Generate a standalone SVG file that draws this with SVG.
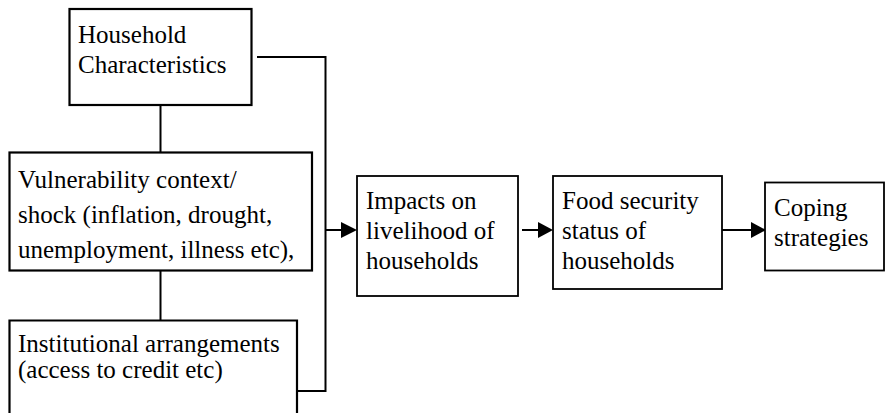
<svg xmlns="http://www.w3.org/2000/svg" width="885" height="413" viewBox="0 0 885 413">
<style>
.box{fill:#fff;stroke:#000;stroke-width:2.2}
.thin{fill:#fff;stroke:#000;stroke-width:1.8}
.t{font-family:"Liberation Serif","Times New Roman",serif;font-size:25px;fill:#000}
.c{fill:none;stroke:#000;stroke-width:2}
</style>
<defs>
<marker id="ah" markerWidth="8" markerHeight="8" refX="8" refY="4" orient="auto" markerUnits="userSpaceOnUse" viewBox="0 0 8 8">
<path d="M0,0 L8,4 L0,8 Z" fill="#000"/>
</marker>
</defs>
<rect width="885" height="413" fill="#fff"/>
<g id="connectors">
<line class="c" x1="160.5" y1="105" x2="160.5" y2="152"/>
<line class="c" x1="160.5" y1="271" x2="160.5" y2="320"/>
<polyline class="c" points="257,57 325.5,57 325.5,391 297,391"/>
<line class="c" x1="325.5" y1="230" x2="341" y2="230"/>
<path d="M341,222 L357,230 L341,238 Z" fill="#000"/>
<line class="c" x1="522" y1="230" x2="538" y2="230"/>
<path d="M538,222 L553,230 L538,238 Z" fill="#000"/>
<line class="c" x1="722" y1="230" x2="751" y2="230"/>
<path d="M751,222 L766,230 L751,238 Z" fill="#000"/>
</g>
<g id="household">
<rect class="box" x="69.5" y="9" width="182" height="96"/>
<text class="t" x="78" y="43">Household</text>
<text class="t" x="78" y="73">Characteristics</text>
</g>
<g id="vulnerability">
<rect class="box" x="9.5" y="152.5" width="302.5" height="118"/>
<text class="t" x="18" y="188">Vulnerability context/</text>
<text class="t" x="18" y="223">shock (inflation, drought,</text>
<text class="t" x="18" y="258">unemployment, illness etc),</text>
</g>
<g id="institutional">
<path class="box" d="M9.5,420 L9.5,320.5 L297,320.5 L297,420"/>
<text class="t" x="18" y="352">Institutional arrangements</text>
<text class="t" x="18" y="378">(access to credit etc)</text>
</g>
<g id="impacts">
<rect class="thin" x="357" y="176" width="161" height="120"/>
<text class="t" x="366" y="209">Impacts on</text>
<text class="t" x="366" y="239">livelihood of</text>
<text class="t" x="366" y="269">households</text>
</g>
<g id="food">
<rect class="thin" x="553" y="176" width="169" height="113"/>
<text class="t" x="562" y="209">Food security</text>
<text class="t" x="562" y="239">status of</text>
<text class="t" x="562" y="269">households</text>
</g>
<g id="coping">
<rect class="thin" x="765" y="182.5" width="119" height="88"/>
<text class="t" x="774" y="216">Coping</text>
<text class="t" x="774" y="246">strategies</text>
</g>
</svg>
